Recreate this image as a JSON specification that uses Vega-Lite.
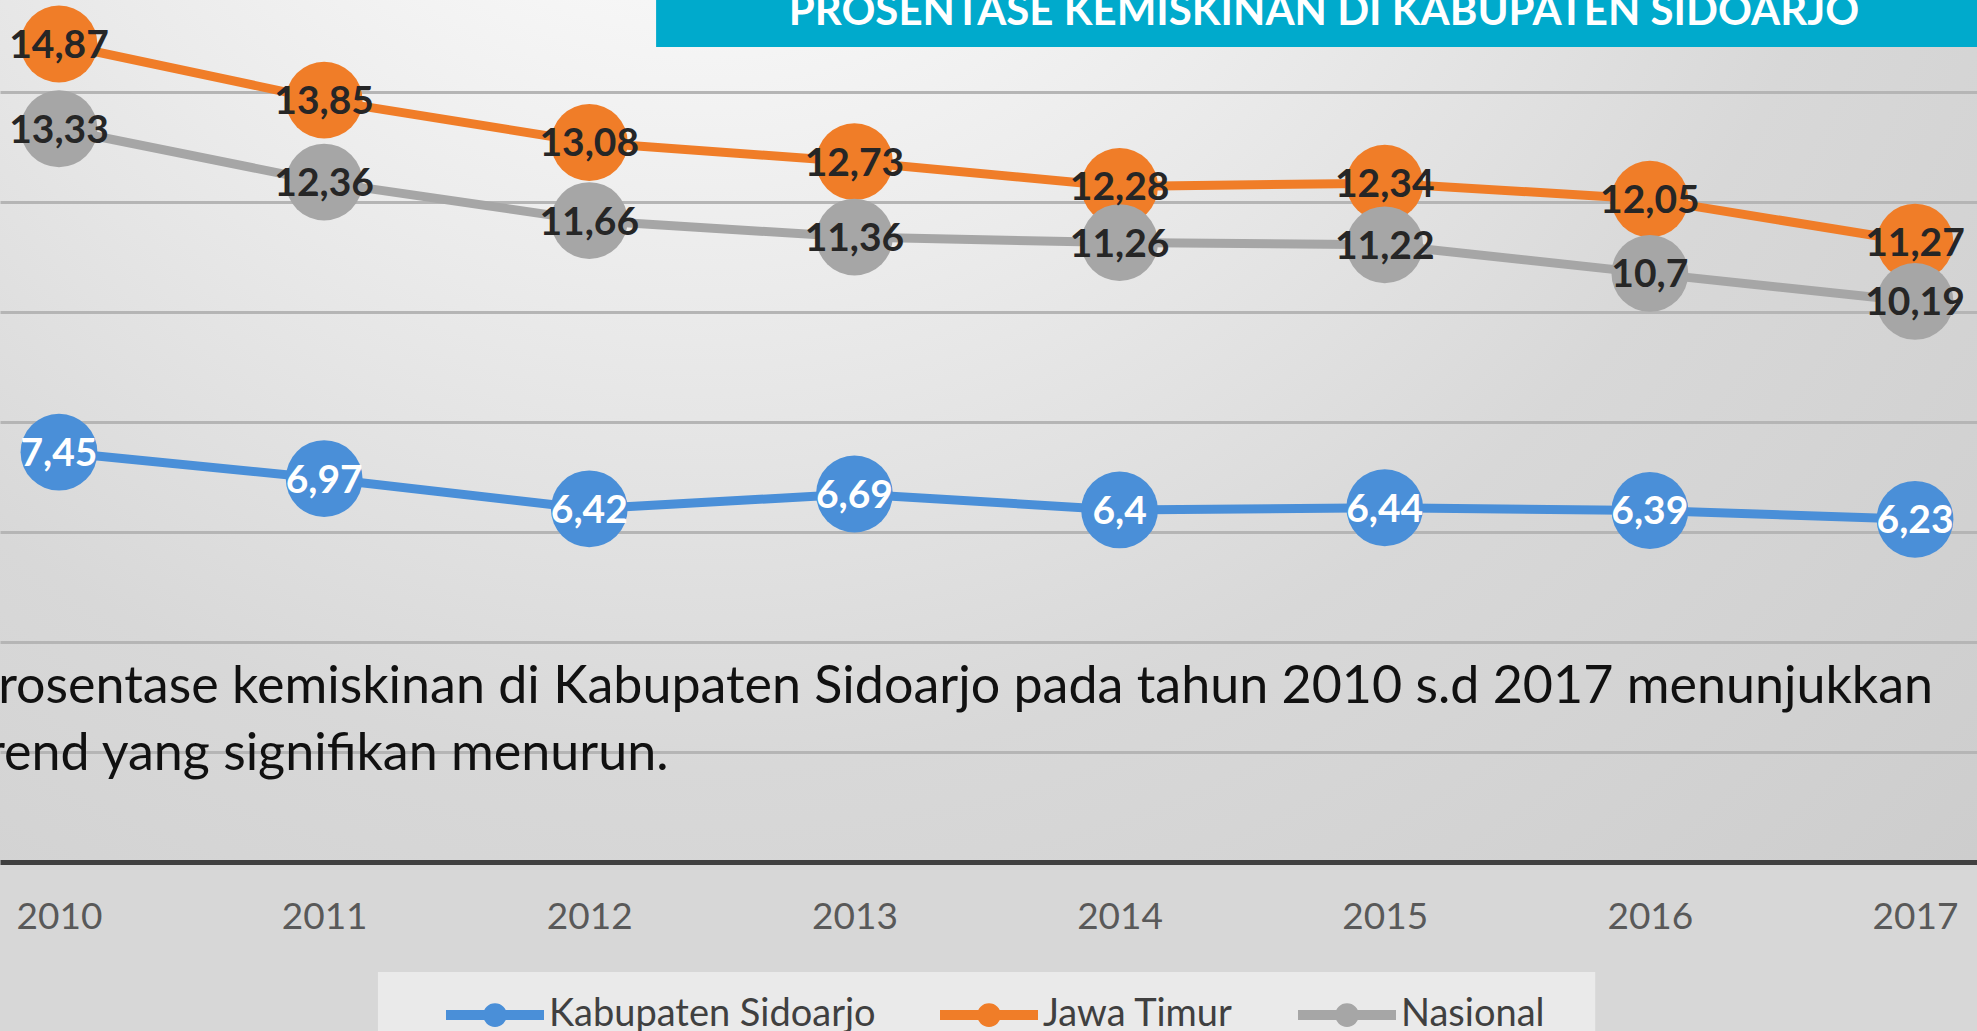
{
  "$schema": "https://vega.github.io/schema/vega-lite/v6.json",
  "width": 1977,
  "height": 862,
  "autosize": {"type": "none"},
  "padding": {"left": 0, "top": 0, "right": 0, "bottom": 169},
  "background": "#d7d7d7",
  "config": {
    "font": "Lato",
    "view": {
      "stroke": null,
      "fill": {
        "gradient": "radial",
        "x1": 0.354, "y1": 0.07, "r1": 0,
        "x2": 0.354, "y2": 0.07, "r2": 1,
        "stops": [
          {"offset": 0, "color": "#fefefe"},
          {"offset": 0.2, "color": "#f7f7f7"},
          {"offset": 0.36, "color": "#ebebeb"},
          {"offset": 0.6, "color": "#d8d8d8"},
          {"offset": 0.8, "color": "#d1d1d1"},
          {"offset": 1, "color": "#cacaca"}
        ]
      }
    },
    "locale": {
      "number": {"decimal": ",", "thousands": ".", "grouping": [3], "currency": ["Rp", ""]}
    }
  },
  "data": {
    "values": [
      {"tahun": 2010, "wilayah": "Kabupaten Sidoarjo", "nilai": 7.45},
      {"tahun": 2011, "wilayah": "Kabupaten Sidoarjo", "nilai": 6.97},
      {"tahun": 2012, "wilayah": "Kabupaten Sidoarjo", "nilai": 6.42},
      {"tahun": 2013, "wilayah": "Kabupaten Sidoarjo", "nilai": 6.69},
      {"tahun": 2014, "wilayah": "Kabupaten Sidoarjo", "nilai": 6.4},
      {"tahun": 2015, "wilayah": "Kabupaten Sidoarjo", "nilai": 6.44},
      {"tahun": 2016, "wilayah": "Kabupaten Sidoarjo", "nilai": 6.39},
      {"tahun": 2017, "wilayah": "Kabupaten Sidoarjo", "nilai": 6.23},
      {"tahun": 2010, "wilayah": "Jawa Timur", "nilai": 14.87},
      {"tahun": 2011, "wilayah": "Jawa Timur", "nilai": 13.85},
      {"tahun": 2012, "wilayah": "Jawa Timur", "nilai": 13.08},
      {"tahun": 2013, "wilayah": "Jawa Timur", "nilai": 12.73},
      {"tahun": 2014, "wilayah": "Jawa Timur", "nilai": 12.28},
      {"tahun": 2015, "wilayah": "Jawa Timur", "nilai": 12.34},
      {"tahun": 2016, "wilayah": "Jawa Timur", "nilai": 12.05},
      {"tahun": 2017, "wilayah": "Jawa Timur", "nilai": 11.27},
      {"tahun": 2010, "wilayah": "Nasional", "nilai": 13.33},
      {"tahun": 2011, "wilayah": "Nasional", "nilai": 12.36},
      {"tahun": 2012, "wilayah": "Nasional", "nilai": 11.66},
      {"tahun": 2013, "wilayah": "Nasional", "nilai": 11.36},
      {"tahun": 2014, "wilayah": "Nasional", "nilai": 11.26},
      {"tahun": 2015, "wilayah": "Nasional", "nilai": 11.22},
      {"tahun": 2016, "wilayah": "Nasional", "nilai": 10.7},
      {"tahun": 2017, "wilayah": "Nasional", "nilai": 10.19}
    ]
  },
  "layer": [
    {
      "data": {"values": [{}]},
      "mark": {"type": "rect", "color": "#00aacc"},
      "encoding": {
        "x": {"datum": 2012.252, "type": "quantitative"},
        "x2": {"datum": 2017.234},
        "y": {"datum": 15.67, "type": "quantitative"},
        "y2": {"datum": 14.815}
      }
    },
    {
      "data": {"values": [{}]},
      "mark": {"type": "text", "color": "#ffffff", "font": "Lato", "fontWeight": "bold", "fontSize": 42, "align": "center", "baseline": "alphabetic", "text": "PROSENTASE KEMISKINAN DI KABUPATEN SIDOARJO"},
      "encoding": {
        "x": {"datum": 2014.771, "type": "quantitative"},
        "y": {"datum": 15.215, "type": "quantitative"}
      }
    },
    {
      "data": {"values": [{}]},
      "mark": {"type": "rect", "color": "#eaeaea"},
      "encoding": {
        "x": {"datum": 2011.203, "type": "quantitative"},
        "x2": {"datum": 2015.794},
        "y": {"datum": -2.0, "type": "quantitative"},
        "y2": {"datum": -3.3}
      }
    },
    {
      "data": {"values": [{}]},
      "mark": {"type": "text", "color": "#111111", "font": "Lato", "fontSize": 52, "lineHeight": 67, "align": "left", "baseline": "alphabetic",
        "text": ["Prosentase kemiskinan di Kabupaten Sidoarjo pada tahun 2010 s.d 2017 menunjukkan", "trend yang signifikan menurun."]},
      "encoding": {
        "x": {"datum": 2009.655, "type": "quantitative"},
        "y": {"datum": 2.894, "type": "quantitative"}
      }
    },
    {
      "mark": {"type": "line", "strokeWidth": 9},
      "encoding": {
        "x": {"field": "tahun", "type": "quantitative",
          "scale": {"domain": [2009.7775, 2017.2338], "nice": false, "zero": false},
          "axis": {"values": [2010, 2011, 2012, 2013, 2014, 2015, 2016, 2017], "format": "d", "title": null, "grid": false, "ticks": false,
            "domainColor": "#404040", "domainWidth": 5, "labelFont": "Lato", "labelFontSize": 37, "labelColor": "#595959",
            "labelPadding": 37, "labelFlush": false, "labelOverlap": false}},
        "y": {"field": "nilai", "type": "quantitative",
          "scale": {"domain": [0, 15.67], "nice": false, "zero": false},
          "axis": {"values": [2, 4, 6, 8, 10, 12, 14], "title": null, "labels": false, "ticks": false, "domain": false,
            "grid": true, "gridColor": "#b5b5b5", "gridWidth": 3}},
        "color": {"field": "wilayah", "type": "nominal",
          "scale": {"domain": ["Kabupaten Sidoarjo", "Jawa Timur", "Nasional"], "range": ["#4a8fd8", "#f07d28", "#a6a6a6"]},
          "legend": {"orient": "none", "legendX": 441, "legendY": 961, "direction": "horizontal", "title": null,
            "padding": 0, "columnPadding": 44, "labelOffset": 0, "labelLimit": 0, "labelFont": "Lato", "labelFontSize": 38, "labelColor": "#404040",
            "symbolType": "M-1,0L1,0M0.14,0A0.14,0.14,0,1,1,-0.14,0A0.14,0.14,0,1,1,0.14,0Z",
            "symbolSize": 9604, "symbolStrokeWidth": 10,
            "encode": {"symbols": {"update": {"stroke": {"scale": "color", "field": "value"}, "fill": {"scale": "color", "field": "value"}, "strokeWidth": {"value": 10}, "opacity": {"value": 1}}}}}}
      }
    },
    {
      "mark": {"type": "point", "filled": true, "size": 5900, "opacity": 1},
      "encoding": {
        "x": {"field": "tahun", "type": "quantitative"},
        "y": {"field": "nilai", "type": "quantitative"},
        "color": {"field": "wilayah", "type": "nominal"}
      }
    },
    {
      "mark": {"type": "text", "font": "Lato", "fontWeight": "bold", "fontSize": 39, "align": "center", "baseline": "middle", "dy": 2},
      "encoding": {
        "x": {"field": "tahun", "type": "quantitative"},
        "y": {"field": "nilai", "type": "quantitative"},
        "text": {"field": "nilai", "type": "quantitative", "format": ".4~g"},
        "color": {"condition": {"test": "datum.wilayah === 'Kabupaten Sidoarjo'", "value": "#ffffff"}, "value": "#262626"}
      }
    }
  ]
}
